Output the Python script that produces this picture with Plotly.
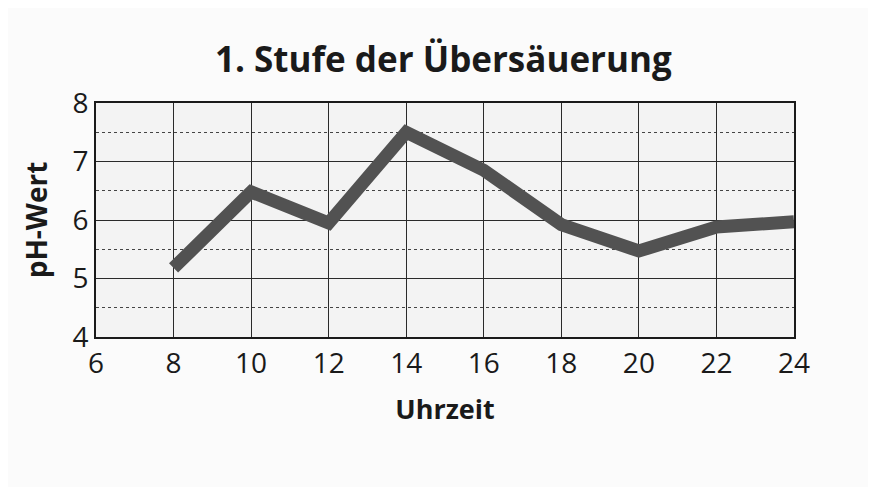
import plotly.graph_objects as go

hours = [8, 10, 12, 14, 16, 18, 20, 22, 24]
ph_values = [5.18, 6.48, 5.95, 7.5, 6.85, 5.92, 5.47, 5.88, 5.97]

title_text = "1. Stufe der Übersäuerung"
x_title = "Uhrzeit"
y_title = "pH-Wert"

FONT = "Open Sans"

fig = go.Figure()
fig.add_trace(go.Scatter(
    x=hours, y=ph_values, mode="lines",
    line=dict(color="#525252", width=13),
    hoverinfo="x+y", showlegend=False,
))

fig.update_layout(
    width=876, height=487,
    margin=dict(l=88, r=90, t=95, b=158),
    paper_bgcolor="#fbfbfb",
    plot_bgcolor="#f3f3f3",
    font=dict(family=FONT, color="#1a1a1a"),
    title=dict(
        text=title_text, x=0.497, xref="container", xanchor="center",
        y=1 - 52 / 487, yref="container", yanchor="middle",
        font=dict(family=FONT, size=35, weight=700, color="#1a1a1a"),
    ),
)

fig.update_xaxes(
    range=[6, 24], dtick=2, tick0=6,
    showgrid=True, gridcolor="#2a2a2a", gridwidth=1.3,
    showline=True, linecolor="#1a1a1a", linewidth=2, mirror=True,
    zeroline=False, ticks="",
    tickfont=dict(family=FONT, size=28, color="#1a1a1a"),
    ticklabelstandoff=0,
    title=dict(text=x_title, standoff=21,
               font=dict(family=FONT, size=27, weight=700, color="#1a1a1a")),
)

fig.update_yaxes(
    range=[4, 8], dtick=1, tick0=4,
    showgrid=True, gridcolor="#2a2a2a", gridwidth=1.3,
    minor=dict(dtick=0.5, showgrid=True, griddash="dot", gridcolor="#444444", gridwidth=1),
    showline=True, linecolor="#1a1a1a", linewidth=2, mirror=True,
    zeroline=False, ticks="",
    tickfont=dict(family=FONT, size=28, color="#1a1a1a"),
    ticklabelstandoff=0,
    title=dict(text=y_title, standoff=17,
               font=dict(family=FONT, size=28, weight=700, color="#1a1a1a")),
)

fig.write_html("out.html")
